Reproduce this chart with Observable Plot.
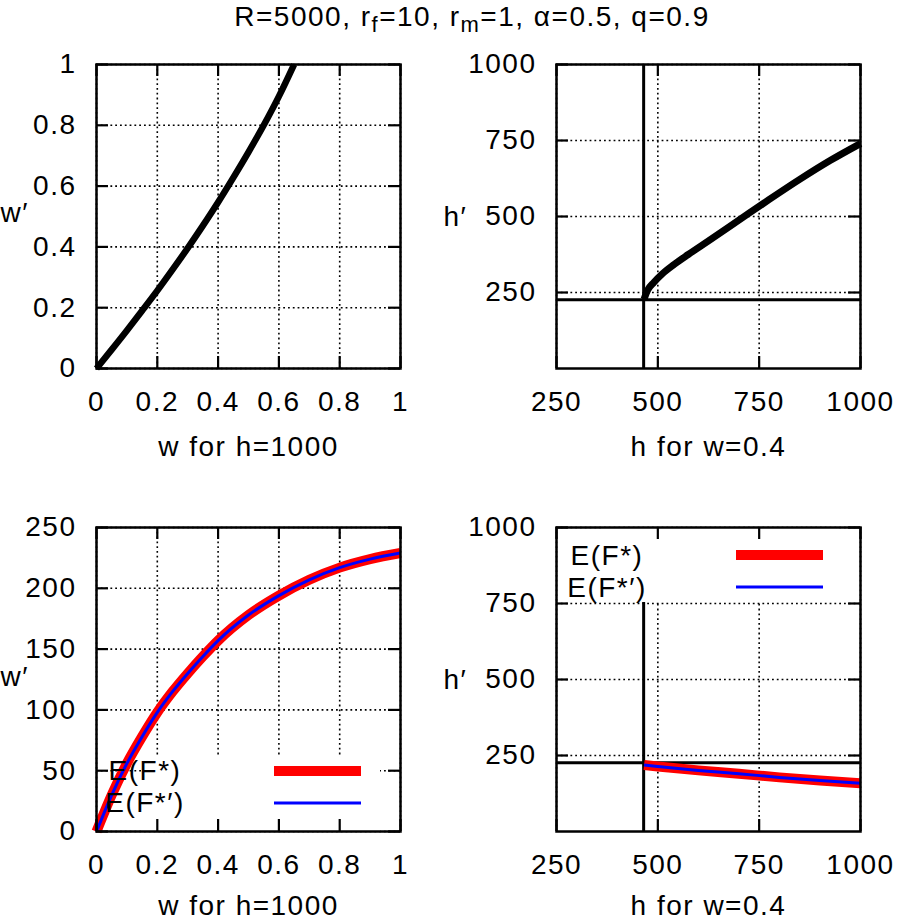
<!DOCTYPE html>
<html>
<head>
<meta charset="utf-8">
<script src="https://cdn.jsdelivr.net/npm/d3@7"></script>
<script src="https://cdn.jsdelivr.net/npm/@observablehq/plot@0.6"></script>
<style>
  body { margin: 0; background: #fff; }
  #fig { position: relative; width: 898px; height: 920px; overflow: hidden; background: #fff;
         font-family: 'Liberation Sans', Arial, Helvetica, sans-serif; }
  #fig > svg { position: absolute; overflow: visible; }
</style>
</head>
<body>
<div id="fig"></div>
<script>
// ---------------- data ----------------
const titleParts = [["R=5000, r", ""], ["f", "sub"], ["=10, r", ""], ["m", "sub"], ["=1, α=0.5, q=0.9", ""]];

// top-left: w' vs w (h = 1000)
const wTop      = [0, 0.05, 0.1, 0.15, 0.2, 0.25, 0.3, 0.35, 0.4, 0.45, 0.5, 0.55, 0.6, 0.65];
const wPrimeTop = [0, 0.062, 0.125, 0.19, 0.256, 0.325, 0.396, 0.47, 0.547, 0.628, 0.712, 0.80, 0.895, 1.0];

// top-right: h' vs h (w = 0.4)
const hTop      = [466, 475, 490, 510, 540, 575, 625, 700, 775, 850, 925, 1000];
const hPrimeTop = [228, 258, 283, 310, 342, 375, 420, 488, 556, 622, 684, 740];

// bottom-left: E(F*) and E(F*') vs w (h = 1000)
const wBottom       = [0, 0.05, 0.1, 0.15, 0.2, 0.25, 0.3, 0.35, 0.4, 0.5, 0.6, 0.7, 0.8, 0.9, 1.0];
const wPrimeFStar   = [0, 30, 56, 78, 98, 115, 130, 144, 157, 178, 194, 207, 217, 224, 229];
const wPrimeFStarP  = [0, 30, 56, 78, 98, 115, 130, 144, 157, 178, 194, 207, 217, 224, 229];

// bottom-right: E(F*) and E(F*') vs h (w = 0.4)
const hBottom       = [466, 500, 600, 700, 800, 900, 1000];
const hPrimeFStar   = [219, 214, 201, 190, 178, 168, 159];
const hPrimeFStarP  = [219, 214, 201, 190, 178, 168, 159];

// reference lines (threshold values)
const hThreshold = 465;
const hPrimeThreshold = 226;

// ticks
const wTicks          = [0, 0.2, 0.4, 0.6, 0.8, 1];
const wPrimeTicksTop  = [0, 0.2, 0.4, 0.6, 0.8, 1];
const wPrimeTicksBot  = [0, 50, 100, 150, 200, 250];
const hTicks          = [250, 500, 750, 1000];
const hPrimeTicks     = [250, 500, 750, 1000];

const seriesNames = ["E(F*)", "E(F*′)"];
const xLabels = ["w for h=1000", "h for w=0.4"];
const yLabels = ["w′", "h′"];

// ---------------- drawing ----------------
const FONT = "'Liberation Sans', Arial, Helvetica, sans-serif";
const STYLE = `font-family: ${FONT}; font-size: 28px; letter-spacing: 1.5px; background: none; overflow: visible; max-width: none;`;
const RED = "#ff0000", BLUE = "#0000ff";

function rows(xs, ys) { return xs.map((x, i) => ({x, y: ys[i]})); }

function panel(cfg) {
  const fw = cfg.width - cfg.ml - cfg.mr;
  const fh = cfg.height - cfg.mt - cfg.mb;
  const TICK = 12;
  const marks = [];
  // dotted grid
  marks.push(Plot.ruleX(cfg.xTicks, {x: d => d, stroke: "#000", strokeWidth: 1.6, strokeDasharray: "1.8,3"}));
  marks.push(Plot.ruleY(cfg.yTicks, {y: d => d, stroke: "#000", strokeWidth: 1.6, strokeDasharray: "1.8,3"}));
  // reference lines
  if (cfg.refX != null) marks.push(Plot.ruleX([cfg.refX], {x: d => d, stroke: "#000", strokeWidth: 3}));
  if (cfg.refY != null) marks.push(Plot.ruleY([cfg.refY], {y: d => d, stroke: "#000", strokeWidth: 3}));
  // opaque key box
  if (cfg.legend) {
    const L = cfg.legend;
    marks.push(() => {
      const g = d3.create("svg:g");
      const y0 = L.anchor === "top" ? cfg.mt : cfg.mt + fh - L.boxH;
      g.append("rect").attr("x", cfg.ml + L.boxX).attr("y", y0)
        .attr("width", L.boxW).attr("height", L.boxH).attr("fill", "#fff");
      return g.node();
    });
  }
  // curves
  for (const s of cfg.series) {
    marks.push(Plot.line(rows(s.x, s.y), {x: "x", y: "y", stroke: s.color, strokeWidth: s.width,
      strokeLinecap: "butt", curve: "monotone-x"}));
  }
  // key entries
  if (cfg.legend) {
    const L = cfg.legend;
    marks.push(() => {
      const g = d3.create("svg:g");
      cfg.series.forEach((s, i) => {
        const base = L.anchor === "top" ? cfg.mt + L.rowBase[i] : cfg.mt + fh - L.rowBase[i];
        g.append("text").attr("x", cfg.ml + L.textX).attr("y", base)
          .attr("fill", "#000").text(s.name);
        g.append("line").attr("x1", cfg.ml + L.sampleX1).attr("x2", cfg.ml + L.sampleX2)
          .attr("y1", base - L.sampleUp).attr("y2", base - L.sampleUp)
          .attr("stroke", s.color).attr("stroke-width", s.width);
      });
      return g.node();
    });
  }
  // inward tick marks on all four sides
  marks.push(Plot.tickX(cfg.xTicks, {x: d => d, insetTop: fh - TICK, stroke: "#000", strokeWidth: 2.2}));
  marks.push(Plot.tickX(cfg.xTicks, {x: d => d, insetBottom: fh - TICK, stroke: "#000", strokeWidth: 2.2}));
  marks.push(Plot.tickY(cfg.yTicks, {y: d => d, insetRight: fw - TICK, stroke: "#000", strokeWidth: 2.2}));
  marks.push(Plot.tickY(cfg.yTicks, {y: d => d, insetLeft: fw - TICK, stroke: "#000", strokeWidth: 2.2}));
  // frame
  marks.push(Plot.frame({stroke: "#000", strokeWidth: 2.5}));
  // tick labels
  marks.push(Plot.text(cfg.xTicks, {x: d => d, frameAnchor: "bottom", dy: 42, lineAnchor: "bottom", text: d => String(d), fill: "#000"}));
  marks.push(Plot.text(cfg.yTicks, {y: d => d, frameAnchor: "left", dx: -20, textAnchor: "end", text: d => String(d), fill: "#000"}));
  // axis titles
  marks.push(Plot.text([cfg.xLabel], {frameAnchor: "bottom", dy: cfg.xLabelDy, lineAnchor: "bottom", text: d => d, fill: "#000"}));
  marks.push(Plot.text([cfg.yLabel], {frameAnchor: "left", dx: cfg.yLabelDx, dy: cfg.yLabelDy || 0, textAnchor: "start", text: d => d, fill: "#000"}));

  const svg = Plot.plot({
    width: cfg.width, height: cfg.height,
    marginLeft: cfg.ml, marginRight: cfg.mr, marginTop: cfg.mt, marginBottom: cfg.mb,
    x: {domain: cfg.xDomain, axis: null},
    y: {domain: cfg.yDomain, axis: null},
    style: STYLE,
    marks
  });
  svg.style.left = cfg.left + "px";
  svg.style.top = cfg.top + "px";
  return svg;
}

const fig = document.getElementById("fig");

// title
{
  const t = d3.select(fig).append("svg").attr("width", 898).attr("height", 44)
    .style("left", "0px").style("top", "0px");
  const text = t.append("text").attr("x", 472).attr("y", 26).attr("text-anchor", "middle")
    .style("font-family", FONT).style("font-size", "28px").style("letter-spacing", "1.5px");
  for (const [s, kind] of titleParts) {
    const ts = text.append("tspan").text(s);
    if (kind === "sub") ts.attr("baseline-shift", "-28%").style("font-size", "22px");
  }
}

fig.appendChild(panel({
  left: 0, top: 0, width: 449, height: 460, ml: 96, mr: 49, mt: 64, mb: 92,
  xDomain: [0, 1], yDomain: [0, 1], xTicks: wTicks, yTicks: wPrimeTicksTop,
  xLabel: xLabels[0], xLabelDy: 87, yLabel: yLabels[0], yLabelDx: -96, yLabelDy: -3,
  series: [{x: wTop, y: wPrimeTop, color: "#000", width: 6.5}]
}));

fig.appendChild(panel({
  left: 430, top: 0, width: 468, height: 460, ml: 126, mr: 38, mt: 64, mb: 92,
  xDomain: [250, 1000], yDomain: [0, 1000], xTicks: hTicks, yTicks: hPrimeTicks,
  xLabel: xLabels[1], xLabelDy: 87, yLabel: yLabels[1], yLabelDx: -113, yLabelDy: 1,
  refX: hThreshold, refY: hPrimeThreshold,
  series: [{x: hTop, y: hPrimeTop, color: "#000", width: 7}]
}));

fig.appendChild(panel({
  left: 0, top: 460, width: 449, height: 460, ml: 96, mr: 49, mt: 67, mb: 89,
  xDomain: [0, 1], yDomain: [0, 250], xTicks: wTicks, yTicks: wPrimeTicksBot,
  xLabel: xLabels[0], xLabelDy: 83, yLabel: yLabels[0], yLabelDx: -96, yLabelDy: -2,
  series: [
    {name: seriesNames[0], x: wBottom, y: wPrimeFStar, color: RED, width: 10},
    {name: seriesNames[1], x: wBottom, y: wPrimeFStarP, color: BLUE, width: 3}
  ],
  legend: {anchor: "bottom", boxX: 47, boxW: 237, boxH: 74, textX: 49, rowBase: [51, 19],
           sampleX1: 178, sampleX2: 265, sampleUp: 9}
}));

fig.appendChild(panel({
  left: 430, top: 460, width: 468, height: 460, ml: 126, mr: 38, mt: 67, mb: 89,
  xDomain: [250, 1000], yDomain: [0, 1000], xTicks: hTicks, yTicks: hPrimeTicks,
  xLabel: xLabels[1], xLabelDy: 83, yLabel: yLabels[1], yLabelDx: -113, yLabelDy: 1,
  refX: hThreshold, refY: hPrimeThreshold,
  series: [
    {name: seriesNames[0], x: hBottom, y: hPrimeFStar, color: RED, width: 10},
    {name: seriesNames[1], x: hBottom, y: hPrimeFStarP, color: BLUE, width: 3}
  ],
  legend: {anchor: "top", boxX: 48, boxW: 232, boxH: 75, textX: 51, rowBase: [38, 70],
           sampleX1: 180, sampleX2: 267, sampleUp: 10}
}));
</script>
</body>
</html>
